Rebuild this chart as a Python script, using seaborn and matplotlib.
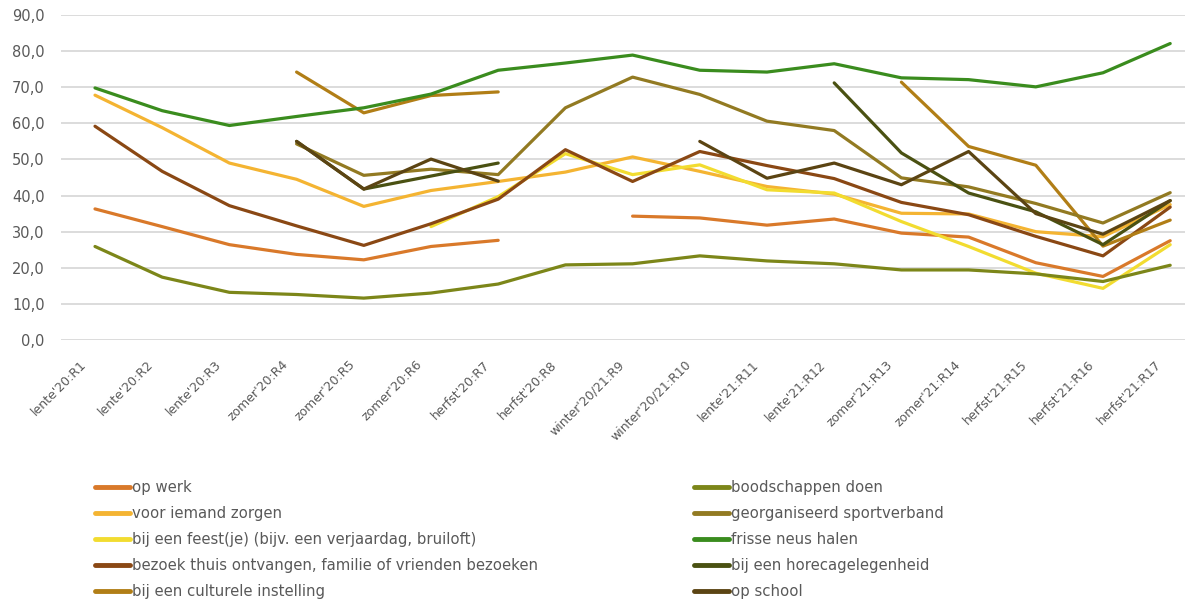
import numpy as np
import pandas as pd
import matplotlib
matplotlib.use("Agg")
import matplotlib.pyplot as plt
from matplotlib.ticker import FuncFormatter
from matplotlib.transforms import ScaledTranslation
import seaborn as sns

nan = np.nan

categories = ["lente'20:R1", "lente'20:R2", "lente'20:R3", "zomer'20:R4", "zomer'20:R5",
              "zomer'20:R6", "herfst'20:R7", "herfst'20:R8", "winter'20/21:R9",
              "winter'20/21:R10", "lente'21:R11", "lente'21:R12", "zomer'21:R13",
              "zomer'21:R14", "herfst'21:R15", "herfst'21:R16", "herfst'21:R17"]

op_werk = [36.3, 31.4, 26.4, 23.7, 22.2, 25.9, 27.6, nan, 34.3, 33.8, 31.8, 33.5, 29.6, 28.5, 21.4, 17.6, 27.5]
voor_iemand_zorgen = [67.8, 58.8, 49.0, 44.5, 37.0, 41.4, 43.9, 46.5, 50.7, 46.7, 42.5, 40.4, 35.1, 34.9, 30.0, 28.6, 37.5]
bij_een_feest = [nan, nan, nan, nan, nan, 31.4, 39.7, 51.6, 45.8, 48.5, 41.6, 40.7, 32.8, 25.9, 18.5, 14.3, 26.4]
bezoek_thuis = [59.2, 46.7, 37.2, 31.6, 26.2, 32.2, 39.0, 52.7, 43.9, 52.2, 48.3, 44.7, 38.1, 34.7, 28.7, 23.3, 36.8]
culturele_instelling = [nan, nan, nan, 74.2, 62.9, 67.7, 68.7, nan, nan, nan, nan, nan, 71.4, 53.6, 48.4, 26.0, 33.2]
boodschappen = [25.9, 17.4, 13.2, 12.6, 11.6, 13.0, 15.5, 20.8, 21.1, 23.3, 21.9, 21.1, 19.4, 19.4, 18.3, 16.2, 20.7]
sportverband = [nan, nan, nan, 54.3, 45.6, 47.3, 45.8, 64.3, 72.8, 68.0, 60.6, 58.0, 44.9, 42.4, 37.8, 32.4, 40.8]
frisse_neus = [69.8, 63.5, 59.4, 61.9, 64.3, 68.1, 74.7, 76.7, 78.9, 74.7, 74.2, 76.5, 72.6, 72.1, 70.1, 74.0, 82.1]
horeca = [nan, nan, nan, 55.0, 41.8, 45.4, 49.0, nan, nan, nan, nan, 71.2, 51.8, 40.7, 35.5, 26.4, 38.6]
op_school = [nan, nan, nan, 55.0, 41.8, 50.1, 44.0, nan, nan, 55.0, 44.8, 49.0, 43.0, 52.2, 35.0, 29.3, 38.6]

series_names = ["op werk", "voor iemand zorgen", "bij een feest(je) (bijv. een verjaardag, bruiloft)",
                "bezoek thuis ontvangen, familie of vrienden bezoeken", "bij een culturele instelling",
                "boodschappen doen", "georganiseerd sportverband", "frisse neus halen",
                "bij een horecagelegenheid", "op school"]
series_values = [op_werk, voor_iemand_zorgen, bij_een_feest, bezoek_thuis, culturele_instelling,
                 boodschappen, sportverband, frisse_neus, horeca, op_school]
colors = ["#D9792A", "#F4B432", "#F2DC30", "#8A4814", "#B17E16",
          "#7C8619", "#927A22", "#3A8C1E", "#4A5112", "#5B4413"]

# long-form table with segment ids so gaps stay gaps
rows = []
for name, vals in zip(series_names, series_values):
    seg = 0
    prev_nan = True
    for i, v in enumerate(vals):
        if np.isnan(v):
            prev_nan = True
            continue
        if prev_nan:
            seg += 1
            prev_nan = False
        rows.append({"serie": name, "x": i, "waarde": v, "seg": f"{name}-{seg}"})
df = pd.DataFrame(rows)

sns.set_style("white")
plt.rcParams['font.family'] = ['DejaVu Sans']

fig = plt.figure(figsize=(11.85, 6.03), dpi=100)
left_px, right_px, top_px, bot_px = 61.4, 1185, 15, 340
ax = fig.add_axes([left_px / 1185, 1 - bot_px / 603, (right_px - left_px) / 1185, (bot_px - top_px) / 603])

palette = dict(zip(series_names, colors))
sns.lineplot(data=df, x="x", y="waarde", hue="serie", units="seg", estimator=None,
             hue_order=series_names, palette=palette, linewidth=2.3, ax=ax, sort=True)

ax.set_ylim(0, 90)
ax.set_xlim(-0.5, (1185 - 95) / 67.2)
ax.set_yticks(np.arange(0, 91, 10))
ax.yaxis.set_major_formatter(FuncFormatter(lambda v, p: f"{v:.1f}".replace(".", ",")))
ax.yaxis.grid(True, color="#D9D9D9", linewidth=1.3)
ax.set_axisbelow(True)
for s in ax.spines.values():
    s.set_visible(False)
ax.set_xticks(range(len(categories)))
ax.set_xticklabels(categories, rotation=45, ha="right", va="top", rotation_mode="anchor")
ax.tick_params(axis="both", length=0, colors="#595959")
ax.tick_params(axis="y", pad=12, labelsize=10.5)
ax.tick_params(axis="x", pad=13, labelsize=9)
offset = ScaledTranslation(-15 / 100, 0, fig.dpi_scale_trans)
for lbl in ax.get_xticklabels():
    lbl.set_transform(lbl.get_transform() + offset)
ax.set_xlabel("")
ax.set_ylabel("")

handles, labels = ax.get_legend_handles_labels()
ax.get_legend().remove()
for h in handles:
    h.set_linewidth(3.5)

common = dict(frameon=False, fontsize=10.7, handlelength=2.35, handletextpad=0.15,
              labelspacing=0.74, borderpad=0, borderaxespad=0, loc="upper left",
              labelcolor="#595959")
leg1 = fig.legend(handles[:5], labels[:5], bbox_to_anchor=(95 / 1185, 1 - 480 / 603), **common)
leg2 = fig.legend(handles[5:], labels[5:], bbox_to_anchor=(694 / 1185, 1 - 480 / 603), **common)

fig.savefig("out.png", dpi=100, facecolor="white")
